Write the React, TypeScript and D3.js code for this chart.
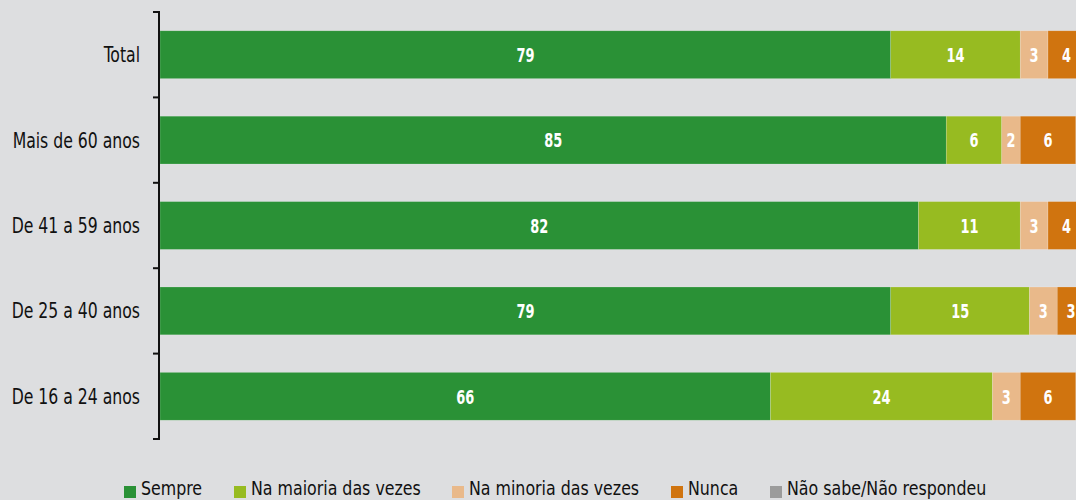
import React from "react";
import * as d3 from "d3";

const categories = ["Total", "Mais de 60 anos", "De 41 a 59 anos", "De 25 a 40 anos", "De 16 a 24 anos"];
const seriesNames = ["Sempre", "Na maioria das vezes", "Na minoria das vezes", "Nunca", "Não sabe/Não respondeu"];
const seriesColors = ["#2a9136", "#97bb21", "#e9b98a", "#d0740f", "#9b9b9b"];
const sempre = [79, 85, 82, 79, 66];
const maioria = [14, 6, 11, 15, 24];
const minoria = [3, 2, 3, 3, 3];
const nunca = [4, 6, 4, 3, 6];
const naoSabe = [0, 0, 0, 0, 0];

const W = 1076;
const H = 500;
const FONT = "'DejaVu Sans Condensed', 'DejaVu Sans', sans-serif";

export default function App() {
  const values = [sempre, maioria, minoria, nunca, naoSabe];
  const rows = categories.map((c, i) => {
    const r: any = { cat: c };
    seriesNames.forEach((s, j) => (r[s] = values[j][i]));
    return r;
  });
  const stack = d3.stack<any>().keys(seriesNames)(rows);
  const x = d3.scaleLinear().domain([0, 100]).range([160, 1085]);
  const y = d3.scaleBand().domain(categories).range([12, 439]).paddingInner(0.44).paddingOuter(0.22);
  const step = y.step();
  const bandEdges = categories.map((c) => (y(c) as number) - (step * y.paddingInner()) / 2);
  bandEdges.push(439);

  const legendX = [124, 234, 452, 671, 770];

  return (
    <svg width={W} height={H} style={{ position: "absolute", left: 0, top: 0, display: "block", background: "#dddee0" }}>
      <rect x={0} y={0} width={W} height={H} fill="#dddee0" />
      {stack.map((layer, j) => (
        <g key={j} fill={seriesColors[j]}>
          {layer.map((d, i) => {
            const w = x(d[1]) - x(d[0]);
            if (w <= 0) return null;
            const cx = (x(d[0]) + x(d[1])) / 2;
            const cy = (y(categories[i]) as number) + y.bandwidth() / 2;
            return (
              <g key={i}>
                <rect
                  x={x(d[0])}
                  y={y(categories[i])}
                  width={w}
                  height={y.bandwidth()}
                  stroke="rgba(255,255,255,0.3)"
                  strokeWidth={0.6}
                />
                <text
                  transform={`translate(${cx},${cy}) scale(0.72,1)`}
                  dy="0.36em"
                  textAnchor="middle"
                  fill="#ffffff"
                  fontFamily={FONT}
                  fontWeight="bold"
                  fontSize={20}
                >
                  {values[j][i]}
                </text>
              </g>
            );
          })}
        </g>
      ))}
      <g stroke="#111" strokeWidth={2} fill="none">
        <line x1={159} x2={159} y1={12} y2={439} />
        {bandEdges.map((e, i) => (
          <line key={i} x1={153} x2={160} y1={e} y2={e} />
        ))}
      </g>
      {categories.map((c) => (
        <text
          key={c}
          transform={`translate(140,${(y(c) as number) + y.bandwidth() / 2}) scale(0.83,1)`}
          dy="0.36em"
          textAnchor="end"
          fill="#111"
          fontFamily={FONT}
          fontSize={21}
        >
          {c}
        </text>
      ))}
      {seriesNames.map((s, j) => (
        <g key={s}>
          <rect x={legendX[j]} y={486} width={12} height={12} fill={seriesColors[j]} />
          <text
            transform={`translate(${legendX[j] + 17},495) scale(0.88,1)`}
            fill="#111"
            fontFamily={FONT}
            fontSize={20}
          >
            {s}
          </text>
        </g>
      ))}
    </svg>
  );
}
